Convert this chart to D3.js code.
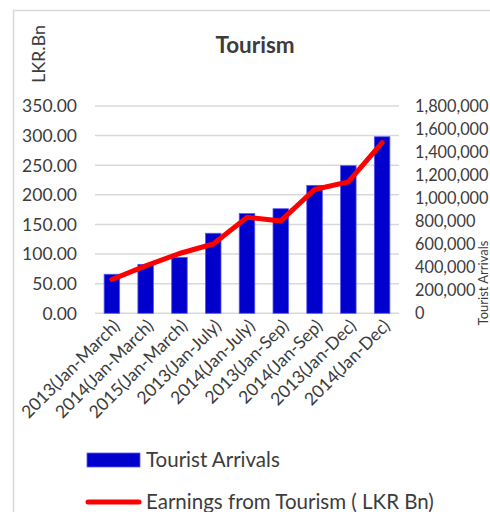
<!DOCTYPE html>
<html>
<head>
<meta charset="utf-8">
<script src="https://cdn.jsdelivr.net/npm/d3@7"></script>
<style>
  body { margin: 0; background: #fff; }
  text { font-family: Lato, "Open Sans", sans-serif; fill: #3c3c3c; }
</style>
</head>
<body>
<div id="chart"></div>
<script>
// chart data
const periods = ['2013(Jan-March)', '2014(Jan-March)', '2015(Jan-March)',
  '2013(Jan-July)', '2014(Jan-July)', '2013(Jan-Sep)', '2014(Jan-Sep)',
  '2013(Jan-Dec)', '2014(Jan-Dec)'];
const arrivals = [339000, 425000, 486000, 695000, 866000, 908000, 1111000, 1282000, 1533000];
const earnings = [57, 80, 101, 117, 162, 156, 209, 222, 288];
const leftTicks = [0, 50, 100, 150, 200, 250, 300, 350];
const rightTicks = [0, 200000, 400000, 600000, 800000, 1000000, 1200000, 1400000, 1600000, 1800000];

const width = 490;
const height = 512;

const svg = d3.select('#chart')
  .append('svg')
  .attr('width', width)
  .attr('height', height);

// chart frame (runs off the right and bottom)
svg.append('path')
  .attr('d', 'M13.5,520V10.5H500')
  .attr('fill', 'none')
  .attr('stroke', '#d9d9d9')
  .attr('stroke-width', 1.5);

const plot = { left: 95, right: 399, top: 106, bottom: 313.3 };

const x = d3.scaleBand()
  .domain(periods)
  .range([plot.left, plot.right])
  .paddingInner(0.54)
  .paddingOuter(0.27);

const yLeft = d3.scaleLinear().domain([0, 350]).range([plot.bottom, plot.top]);
const yRight = d3.scaleLinear().domain([0, 1800000]).range([plot.bottom, plot.top]);

// gridlines
svg.append('g')
  .selectAll('line')
  .data(leftTicks)
  .enter()
  .append('line')
  .attr('x1', plot.left)
  .attr('x2', plot.right)
  .attr('y1', d => yLeft(d))
  .attr('y2', d => yLeft(d))
  .attr('stroke', '#d9d9d9')
  .attr('stroke-width', 1.5);

// left axis labels
const fmtLeft = d3.format('.2f');
svg.append('g')
  .selectAll('text')
  .data(leftTicks)
  .enter()
  .append('text')
  .attr('x', 77)
  .attr('y', d => yLeft(d))
  .attr('dy', '0.36em')
  .attr('text-anchor', 'end')
  .attr('font-size', 17.5)
  .text(d => fmtLeft(d));

// right axis labels (a bit smaller so they stay inside the window)
const fmtRight = d3.format(',');
svg.append('g')
  .selectAll('text')
  .data(rightTicks)
  .enter()
  .append('text')
  .attr('x', 415)
  .attr('y', d => yRight(d))
  .attr('dy', '0.36em')
  .attr('font-size', 16.3)
  .text(d => fmtRight(d));

// bars
svg.append('g')
  .selectAll('rect')
  .data(arrivals)
  .enter()
  .append('rect')
  .attr('x', (d, i) => x(periods[i]))
  .attr('y', d => yRight(d))
  .attr('width', x.bandwidth())
  .attr('height', d => plot.bottom - yRight(d))
  .attr('fill', '#0000cc')
  .attr('stroke', '#5a5aee')
  .attr('stroke-width', 0.8);

// earnings line
const line = d3.line()
  .x((d, i) => x(periods[i]) + x.bandwidth() / 2)
  .y(d => yLeft(d));

svg.append('path')
  .datum(earnings)
  .attr('d', line)
  .attr('fill', 'none')
  .attr('stroke', '#ff0000')
  .attr('stroke-width', 5)
  .attr('stroke-linecap', 'round')
  .attr('stroke-linejoin', 'round');

// category labels
svg.append('g')
  .selectAll('text')
  .data(periods)
  .enter()
  .append('text')
  .attr('transform', d => `translate(${x(d) + x.bandwidth() / 2 + 9},${327}) rotate(-45)`)
  .attr('text-anchor', 'end')
  .attr('font-size', 17.5)
  .text(d => d);

// title and axis titles
svg.append('text')
  .attr('x', 255)
  .attr('y', 53)
  .attr('text-anchor', 'middle')
  .attr('font-size', 22.5)
  .attr('font-weight', 'bold')
  .text('Tourism');

svg.append('text')
  .attr('transform', 'translate(45,54) rotate(-90)')
  .attr('text-anchor', 'middle')
  .attr('font-size', 18)
  .text('LKR.Bn');

svg.append('text')
  .attr('transform', 'translate(487.5,283) rotate(-90)')
  .attr('text-anchor', 'middle')
  .attr('font-size', 13)
  .text('Tourist Arrivals');

// legend
const legend = svg.append('g');
legend.append('rect')
  .attr('x', 87)
  .attr('y', 453)
  .attr('width', 53)
  .attr('height', 14)
  .attr('fill', '#0000cc')
  .attr('stroke', '#5a5aee')
  .attr('stroke-width', 0.8);
legend.append('text')
  .attr('x', 146)
  .attr('y', 467)
  .attr('font-size', 20.5)
  .text('Tourist Arrivals');
legend.append('line')
  .attr('x1', 88)
  .attr('x2', 139)
  .attr('y1', 502)
  .attr('y2', 502)
  .attr('stroke', '#ff0000')
  .attr('stroke-width', 5)
  .attr('stroke-linecap', 'round');
legend.append('text')
  .attr('x', 146)
  .attr('y', 509)
  .attr('font-size', 20.5)
  .text('Earnings from Tourism ( LKR Bn)');
</script>
</body>
</html>
